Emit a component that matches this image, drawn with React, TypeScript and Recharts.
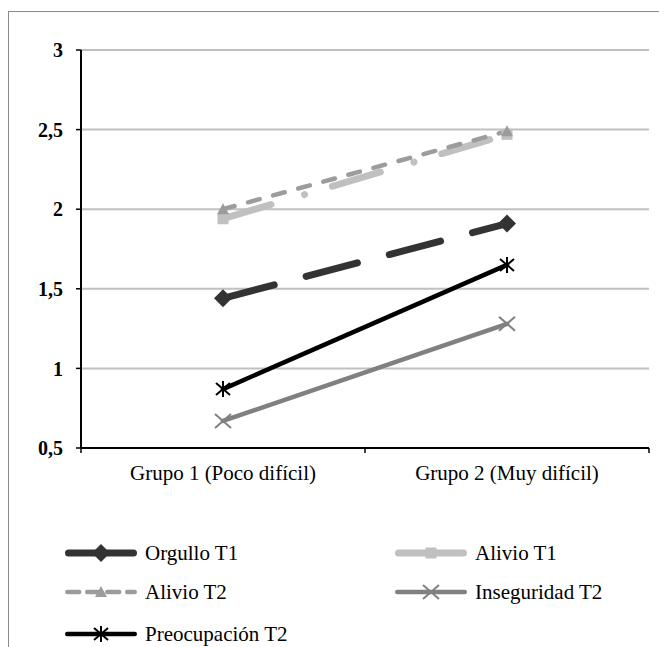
import React from "react";
import { LineChart, Line, XAxis, YAxis, CartesianGrid } from "recharts";

// values
const groups = ["Grupo 1 (Poco difícil)", "Grupo 2 (Muy difícil)"];
const orgulloT1 = [1.44, 1.91];
const alivioT1 = [1.94, 2.47];
const alivioT2 = [2.0, 2.49];
const inseguridadT2 = [0.67, 1.28];
const preocupacionT2 = [0.87, 1.65];
const yTicks = [0.5, 1, 1.5, 2, 2.5, 3];

const FONT = '"Liberation Serif", Tinos, "Times New Roman", "DejaVu Serif", serif';

type Marker = "diamond" | "square" | "triangle" | "x" | "star";

const series: Array<{
  key: string;
  name: string;
  color: string;
  width: number;
  dash?: string;
  legendDash?: string;
  marker: Marker;
}> = [
  { key: "orgullo", name: "Orgullo T1", color: "#333333", width: 7, dash: "53 33", marker: "diamond" },
  { key: "alivio1", name: "Alivio T1", color: "#c0c0c0", width: 7, dash: "50 35 0.1 29", marker: "square" },
  { key: "alivio2", name: "Alivio T2", color: "#9c9c9c", width: 4.5, dash: "12 14", legendDash: "12 8", marker: "triangle" },
  { key: "inseg", name: "Inseguridad T2", color: "#808080", width: 4.5, marker: "x" },
  { key: "preoc", name: "Preocupación T2", color: "#000000", width: 4.5, marker: "star" },
];

// each group sits in the middle of its slot on a 0..n axis (Excel category style)
const data = groups.map((group, i) => ({
  slot: i + 0.5,
  group,
  orgullo: orgulloT1[i],
  alivio1: alivioT1[i],
  alivio2: alivioT2[i],
  inseg: inseguridadT2[i],
  preoc: preocupacionT2[i],
}));

// slot borders get tick marks, slot centres get the group names
const xTicks = [0, ...groups.flatMap((_, i) => [i + 0.5, i + 1])];

function CategoryTick(props: any) {
  const { x, y, payload } = props;
  const v = payload.value as number;
  if (Number.isInteger(v)) {
    return <line x1={x} y1={y} x2={x} y2={y + 5} stroke="#000" strokeWidth={1.5} />;
  }
  return (
    <text x={x} y={y + 17} dy="0.71em" textAnchor="middle" fontFamily={FONT} fontSize={21} fill="#000">
      {groups[Math.floor(v)]}
    </text>
  );
}

function drawMarker(kind: Marker, cx: number, cy: number, color: string, key?: string) {
  switch (kind) {
    case "diamond":
      return (
        <polygon key={key} points={`${cx},${cy - 9} ${cx + 9},${cy} ${cx},${cy + 9} ${cx - 9},${cy}`} fill={color} />
      );
    case "square":
      return <rect key={key} x={cx - 5.5} y={cy - 5.5} width={11} height={11} fill={color} />;
    case "triangle":
      return (
        <polygon key={key} points={`${cx},${cy - 6} ${cx + 6},${cy + 5} ${cx - 6},${cy + 5}`} fill={color} />
      );
    case "x":
      return (
        <g key={key} stroke={color} strokeWidth={2}>
          <line x1={cx - 8} y1={cy - 7} x2={cx + 8} y2={cy + 7} />
          <line x1={cx - 8} y1={cy + 7} x2={cx + 8} y2={cy - 7} />
        </g>
      );
    case "star":
      return (
        <g key={key} stroke={color} strokeWidth={2}>
          <line x1={cx - 7} y1={cy - 6} x2={cx + 7} y2={cy + 6} />
          <line x1={cx - 7} y1={cy + 6} x2={cx + 7} y2={cy - 6} />
          <line x1={cx} y1={cy - 8} x2={cx} y2={cy + 8} />
        </g>
      );
  }
}

const legendPos = [
  { left: 56, top: 541 },
  { left: 386, top: 541 },
  { left: 56, top: 580 },
  { left: 386, top: 580 },
  { left: 56, top: 622 },
];

function LegendBox() {
  return (
    <>
      {series.map((s, i) => (
        <div
          key={s.key}
          style={{
            position: "absolute",
            left: legendPos[i].left,
            top: legendPos[i].top - 12,
            height: 24,
            display: "flex",
            alignItems: "center",
            fontFamily: FONT,
            fontSize: 21,
            color: "#000",
            whiteSpace: "nowrap",
          }}
        >
          <svg width={72} height={24} style={{ marginRight: 8 }}>
            <line
              x1={s.width / 2}
              y1={12}
              x2={72 - s.width / 2}
              y2={12}
              stroke={s.color}
              strokeWidth={s.width}
              strokeLinecap="round"
              strokeDasharray={s.legendDash}
            />
            {drawMarker(s.marker, 36, 12, s.color)}
          </svg>
          <span>{s.name}</span>
        </div>
      ))}
    </>
  );
}

export default function App() {
  return (
    <div
      style={{
        position: "relative",
        marginTop: 3,
        width: 658,
        height: 635,
        borderTop: "1px solid #8a8a8a",
        borderLeft: "1px solid #8a8a8a",
        background: "#fff",
        overflow: "hidden",
      }}
    >
      <LineChart width={658} height={480} data={data} margin={{ top: 38, right: 18, left: 0, bottom: 4 }}>
        <CartesianGrid yAxisId="v" xAxisId="cat" vertical={false} stroke="#c0c0c0" strokeWidth={2} />
        <XAxis
          xAxisId="cat"
          dataKey="slot"
          type="number"
          domain={[0, groups.length]}
          ticks={xTicks}
          interval={0}
          tickLine={false}
          tickSize={0}
          tickMargin={0}
          height={40}
          axisLine={{ stroke: "#000", strokeWidth: 2 }}
          tick={<CategoryTick />}
        />
        <XAxis
          xAxisId="top"
          orientation="top"
          dataKey="group"
          height={0}
          tick={false}
          tickLine={false}
          axisLine={{ stroke: "#8a8a8a", strokeWidth: 2.5 }}
        />
        <YAxis
          yAxisId="v"
          domain={[0.5, 3]}
          ticks={yTicks}
          width={72}
          tickSize={5}
          tickMargin={13}
          axisLine={{ stroke: "#000", strokeWidth: 2 }}
          tickLine={{ stroke: "#000", strokeWidth: 1.5 }}
          tickFormatter={(v: number) => String(v).replace(".", ",")}
          tick={{ fontFamily: FONT, fontSize: 20, fontWeight: "bold", fill: "#000" }}
        />
        <YAxis
          yAxisId="r"
          orientation="right"
          domain={[0.5, 3]}
          width={0}
          tick={false}
          tickLine={false}
          axisLine={{ stroke: "#8a8a8a", strokeWidth: 3 }}
        />
        {series.map((s) => (
          <Line
            key={s.key}
            xAxisId="cat"
            yAxisId="v"
            dataKey={s.key}
            name={s.name}
            type="linear"
            stroke={s.color}
            strokeWidth={s.width}
            strokeDasharray={s.dash}
            strokeLinecap="round"
            isAnimationActive={false}
            activeDot={false}
            dot={(p: any) => drawMarker(s.marker, p.cx, p.cy, s.color, `${s.key}-${p.index}`)}
          />
        ))}
      </LineChart>
      <LegendBox />
    </div>
  );
}
